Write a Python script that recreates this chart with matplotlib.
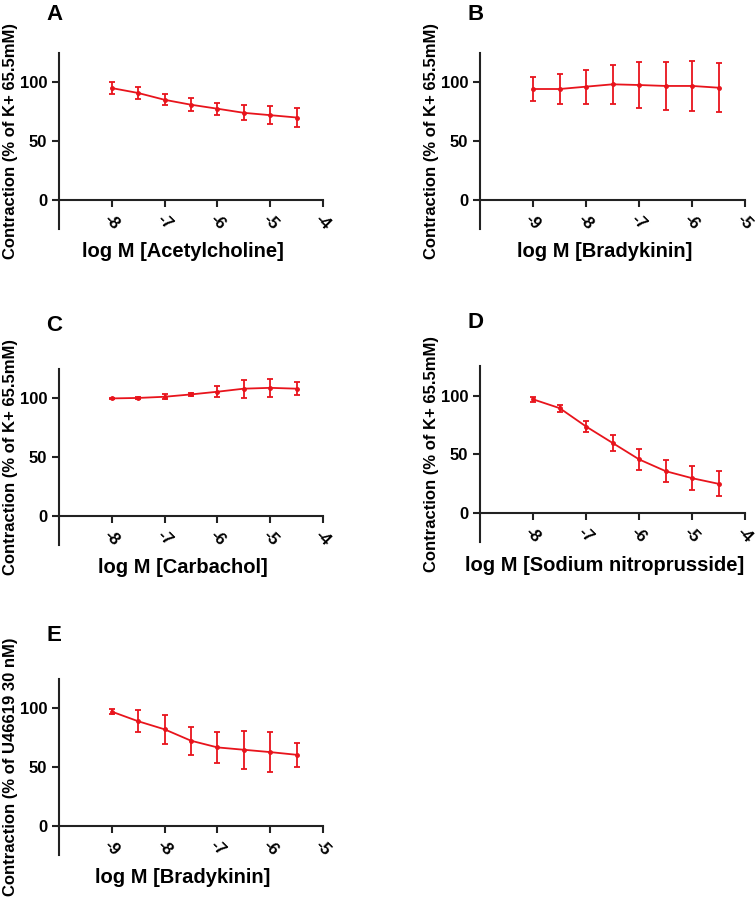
import numpy as np
import matplotlib
matplotlib.use("Agg")
import matplotlib.pyplot as plt

plt.rcParams['font.family'] = ['Liberation Sans', 'DejaVu Sans']
plt.rcParams['font.weight'] = 'bold'

RED = '#e8141c'

# log concentrations
x_ach = [-8, -7.5, -7, -6.5, -6, -5.5, -5, -4.5]
x_bk = [-9, -8.5, -8, -7.5, -7, -6.5, -6, -5.5]

# panel A - acetylcholine
ach_mean = [95.1, 90.9, 85.1, 80.9, 77.5, 74.0, 72.0, 70.0]
ach_err = [5.0, 4.7, 4.6, 5.6, 5.1, 6.4, 7.6, 8.0]
# panel B - bradykinin
bk_mean = [94.3, 94.3, 96.3, 98.3, 97.7, 96.9, 96.9, 95.4]
bk_err = [10.0, 12.6, 14.6, 16.4, 19.6, 20.4, 21.6, 21.0]
# panel C - carbachol
cch_mean = [100.0, 100.4, 101.4, 103.4, 105.7, 108.3, 109.0, 108.3]
cch_err = [0.3, 0.5, 2.0, 1.6, 4.6, 7.8, 7.8, 5.4]
# panel D - sodium nitroprusside
snp_mean = [96.9, 89.4, 73.7, 59.7, 45.7, 35.7, 29.7, 24.9]
snp_err = [1.9, 3.0, 5.0, 7.1, 8.7, 9.6, 10.0, 10.6]
# panel E - bradykinin on U46619
bku_mean = [97.1, 88.9, 82.0, 72.3, 66.6, 64.6, 62.6, 60.3]
bku_err = [2.0, 9.4, 12.4, 12.1, 13.3, 16.4, 17.0, 10.0]

ticks_a = [-8, -7, -6, -5, -4]
ticks_b = [-9, -8, -7, -6, -5]
ylab_k = 'Contraction (% of K+ 65.5mM)'
ylab_u = 'Contraction (% of U46619 30 nM)'

panels = [
    ('A', x_ach, ach_mean, ach_err, ticks_a, 'log M [Acetylcholine]', ylab_k, [0.078, 0.745, 0.350, 0.196], 1.22),
    ('B', x_bk, bk_mean, bk_err, ticks_b, 'log M [Bradykinin]', ylab_k, [0.636, 0.745, 0.351, 0.196], 1.22),
    ('C', x_ach, cch_mean, cch_err, ticks_a, 'log M [Carbachol]', ylab_k, [0.078, 0.393, 0.350, 0.196], 1.25),
    ('D', x_ach, snp_mean, snp_err, ticks_a, 'log M [Sodium nitroprusside]', ylab_k, [0.636, 0.396, 0.351, 0.196], 1.25),
    ('E', x_bk, bku_mean, bku_err, ticks_b, 'log M [Bradykinin]', ylab_u, [0.078, 0.048, 0.350, 0.196], 1.245),
]

fig = plt.figure(figsize=(7.55, 8.98), dpi=100)

for letter, xs, ys, es, ticks, xlab, ylab, pos, ly in panels:
    ax = fig.add_axes(pos)
    ax.errorbar(xs, ys, yerr=es, color=RED, ecolor=RED, lw=1.3, elinewidth=1.3,
                capsize=2.5, capthick=1.3, marker='o', ms=2.5)
    ax.set_xlim(ticks[0] - 1, ticks[-1])
    ax.set_ylim(-25, 125)
    ax.spines['top'].set_visible(False)
    ax.spines['right'].set_visible(False)
    ax.spines['bottom'].set_position(('data', 0))
    for s in ('left', 'bottom'):
        ax.spines[s].set_linewidth(1.5)
        ax.spines[s].set_color('#222222')
    ax.set_yticks([0, 50, 100])
    ax.set_xticks(ticks)
    ax.set_xticklabels([str(t) for t in ticks], rotation=-45, ha='center', va='top')
    ax.tick_params(width=1.5, length=5, labelsize=12, color='#222222')
    for lab in ax.get_xticklabels() + ax.get_yticklabels():
        lab.set_fontweight('bold')
    ax.set_xlabel(xlab, fontsize=14.5, fontweight='bold', va='center')
    ax.xaxis.set_label_coords(0.47, -0.13)
    ax.set_ylabel(ylab, fontsize=12, fontweight='bold', va='center')
    ax.yaxis.set_label_coords(-0.185, 0.5)
    ax.text(-0.018, ly, letter, transform=ax.transAxes, fontsize=16,
            fontweight='bold', ha='center', va='center')

fig.savefig('out.png', dpi=100)
